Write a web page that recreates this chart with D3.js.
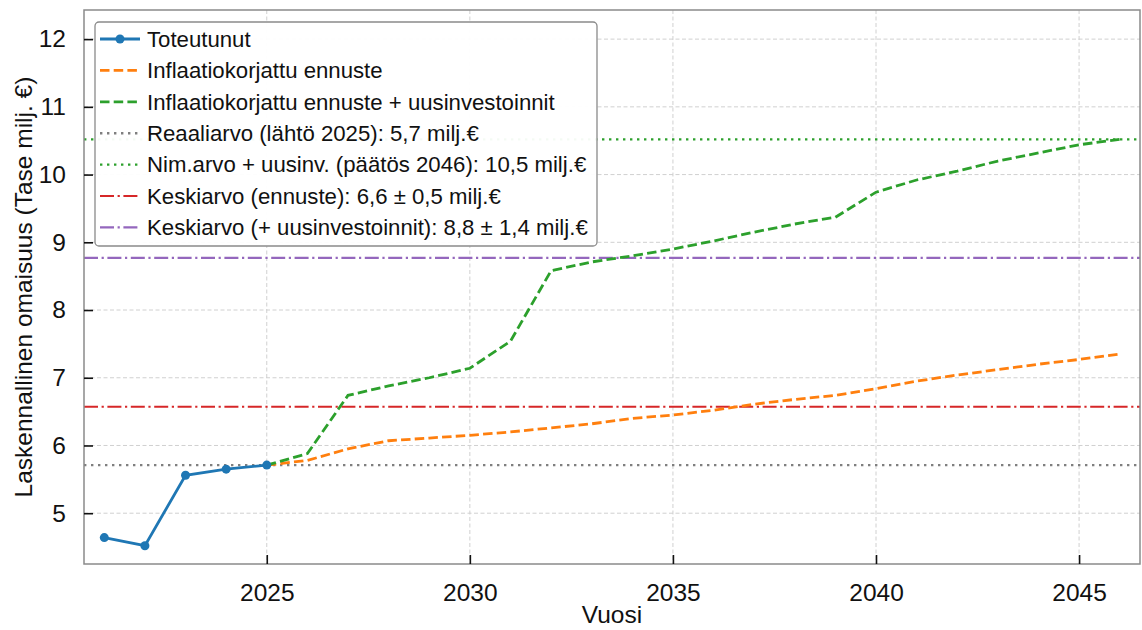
<!DOCTYPE html>
<html>
<head>
<meta charset="utf-8">
<script src="https://cdn.jsdelivr.net/npm/d3@7"></script>
<style>
  body { margin: 0; background: #fff; }
  svg { display: block; font-family: "Liberation Sans", Arial, Helvetica, sans-serif; }
</style>
</head>
<body>
<svg id="chart" width="1142" height="630"></svg>
<script>
// Toteutunut tase (laskennallinen omaisuus, milj. €)
const actualYears = [2021, 2022, 2023, 2024, 2025];
const actualValues = [4.64, 4.52, 5.56, 5.65, 5.71];

// Ennustevuodet 2025–2046
const forecastYears = d3.range(2025, 2047);
// Inflaatiokorjattu ennuste
const forecastValues = [5.71, 5.78, 5.95, 6.07, 6.11, 6.15, 6.20, 6.26, 6.32, 6.40, 6.45,
  6.52, 6.61, 6.68, 6.74, 6.84, 6.95, 7.04, 7.12, 7.20, 7.27, 7.35];
// Inflaatiokorjattu ennuste + uusinvestoinnit
const investValues = [5.71, 5.88, 6.74, 6.88, 7.00, 7.14, 7.54, 8.58, 8.71, 8.80, 8.90,
  9.02, 9.15, 9.27, 9.37, 9.74, 9.92, 10.05, 10.20, 10.32, 10.44, 10.52];

const xTicks = [2025, 2030, 2035, 2040, 2045];
const yTicks = [5, 6, 7, 8, 9, 10, 11, 12];

const svg = d3.select("#chart");
const margin = { left: 84, right: 1140, top: 10, bottom: 564 };

const x = d3.scaleLinear().domain([2020.5, 2046.5]).range([margin.left, margin.right]);
const y = d3.scaleLinear().domain([4.25, 12.43]).range([margin.bottom, margin.top]);

const fmt = v => v.toFixed(1).replace(".", ",");

// Tunnusluvut
const baseValue = actualValues[actualValues.length - 1];
const nominalEnd = investValues[investValues.length - 1];
const fcPeriod = forecastValues.slice(1);
const invPeriod = investValues.slice(1);
const fcMean = d3.mean(fcPeriod), fcDev = d3.deviation(fcPeriod);
const invMean = d3.mean(invPeriod), invDev = d3.deviation(invPeriod);

const colors = {
  blue: "#1f77b4", orange: "#ff7f0e", green: "#2ca02c",
  gray: "#7f7f7f", red: "#d62728", purple: "#9467bd"
};
const dashed = "9.5,4.2", dotted = "2.4,4.6", dashdot = "14,3.6,2.2,3.6";

// Ruudukko
const grid = svg.append("g");
grid.selectAll("line.gx").data(xTicks).join("line")
  .attr("x1", d => x(d)).attr("x2", d => x(d))
  .attr("y1", margin.top).attr("y2", margin.bottom)
  .attr("stroke", "#d0d0d0").attr("stroke-width", 1).attr("stroke-dasharray", "4,2.5");
grid.selectAll("line.gy").data(yTicks).join("line")
  .attr("x1", margin.left).attr("x2", margin.right)
  .attr("y1", d => y(d)).attr("y2", d => y(d))
  .attr("stroke", "#d0d0d0").attr("stroke-width", 1).attr("stroke-dasharray", "4,2.5");

const plot = svg.append("g");

// Vaakaviivat
const hlines = [
  { v: baseValue, color: colors.gray, dash: dotted, w: 2.4 },
  { v: nominalEnd, color: colors.green, dash: dotted, w: 2.4 },
  { v: fcMean, color: colors.red, dash: dashdot, w: 2.1 },
  { v: invMean, color: colors.purple, dash: dashdot, w: 2.1 }
];
plot.selectAll("line.h").data(hlines).join("line")
  .attr("x1", margin.left).attr("x2", margin.right)
  .attr("y1", d => y(d.v)).attr("y2", d => y(d.v))
  .attr("stroke", d => d.color).attr("stroke-width", d => d.w)
  .attr("stroke-dasharray", d => d.dash);

const line = d3.line().x(d => x(d[0])).y(d => y(d[1]));

plot.append("path")
  .datum(d3.zip(forecastYears, forecastValues))
  .attr("d", line).attr("fill", "none")
  .attr("stroke", colors.orange).attr("stroke-width", 2.8).attr("stroke-dasharray", dashed);
plot.append("path")
  .datum(d3.zip(forecastYears, investValues))
  .attr("d", line).attr("fill", "none")
  .attr("stroke", colors.green).attr("stroke-width", 2.8).attr("stroke-dasharray", dashed);

const actual = d3.zip(actualYears, actualValues);
plot.append("path")
  .datum(actual)
  .attr("d", line).attr("fill", "none")
  .attr("stroke", colors.blue).attr("stroke-width", 2.8);
plot.selectAll("circle.pt").data(actual).join("circle")
  .attr("cx", d => x(d[0])).attr("cy", d => y(d[1])).attr("r", 4.5)
  .attr("fill", colors.blue);

// Kehys
svg.append("rect")
  .attr("x", margin.left).attr("y", margin.top)
  .attr("width", margin.right - margin.left).attr("height", margin.bottom - margin.top)
  .attr("fill", "none").attr("stroke", "#8a8a8a").attr("stroke-width", 1.5);

// Akselit (sisäänpäin osoittavat tikit)
const xAxis = d3.axisBottom(x).tickValues(xTicks).tickFormat(d3.format("d"))
  .tickSizeInner(-9).tickSizeOuter(0).tickPadding(20);
const gx = svg.append("g").attr("transform", `translate(0,${margin.bottom})`).call(xAxis);
gx.select(".domain").remove();
gx.selectAll(".tick line").attr("stroke", "#111").attr("stroke-width", 1.6);
gx.selectAll(".tick text").attr("font-size", 24.5).attr("fill", "#111")
  .attr("font-family", "Liberation Sans, Arial, sans-serif");

const yAxis = d3.axisLeft(y).tickValues(yTicks).tickFormat(d3.format("d"))
  .tickSizeInner(-9).tickSizeOuter(0).tickPadding(18);
const gy = svg.append("g").attr("transform", `translate(${margin.left},0)`).call(yAxis);
gy.select(".domain").remove();
gy.selectAll(".tick line").attr("stroke", "#111").attr("stroke-width", 1.6);
gy.selectAll(".tick text").attr("font-size", 24.5).attr("fill", "#111")
  .attr("font-family", "Liberation Sans, Arial, sans-serif");

// Akselien otsikot
svg.append("text")
  .attr("x", (margin.left + margin.right) / 2).attr("y", 623)
  .attr("text-anchor", "middle").attr("font-size", 24.5).attr("fill", "#111")
  .text("Vuosi");
svg.append("text")
  .attr("transform", `translate(32,${(margin.top + margin.bottom) / 2}) rotate(-90)`)
  .attr("text-anchor", "middle").attr("font-size", 24.5).attr("fill", "#111")
  .text("Laskennallinen omaisuus (Tase milj. €)");

// Selite
const legendItems = [
  { label: "Toteutunut", color: colors.blue, dash: null, w: 2.8, marker: true },
  { label: "Inflaatiokorjattu ennuste", color: colors.orange, dash: dashed, w: 2.8 },
  { label: "Inflaatiokorjattu ennuste + uusinvestoinnit", color: colors.green, dash: dashed, w: 2.8 },
  { label: `Reaaliarvo (lähtö 2025): ${fmt(baseValue)} milj.€`, color: colors.gray, dash: dotted, w: 2.4 },
  { label: `Nim.arvo + uusinv. (päätös 2046): ${fmt(nominalEnd)} milj.€`, color: colors.green, dash: dotted, w: 2.4 },
  { label: `Keskiarvo (ennuste): ${fmt(fcMean)} ± ${fmt(fcDev)} milj.€`, color: colors.red, dash: dashdot, w: 2.1 },
  { label: `Keskiarvo (+ uusinvestoinnit): ${fmt(invMean)} ± ${fmt(invDev)} milj.€`, color: colors.purple, dash: dashdot, w: 2.1 }
];

const legend = svg.append("g");
legend.append("rect")
  .attr("x", 95).attr("y", 22).attr("width", 502).attr("height", 224)
  .attr("rx", 4).attr("fill", "#fff").attr("fill-opacity", 0.95)
  .attr("stroke", "#8a8a8a").attr("stroke-width", 1.3);

const rows = legend.selectAll("g.row").data(legendItems).join("g")
  .attr("transform", (d, i) => `translate(0,${39 + i * 31.4})`);
rows.append("line")
  .attr("x1", 100).attr("x2", 140)
  .attr("stroke", d => d.color).attr("stroke-width", d => d.w)
  .attr("stroke-dasharray", d => d.dash);
rows.filter(d => d.marker).append("circle")
  .attr("cx", 120).attr("r", 4.5).attr("fill", d => d.color);
rows.append("text")
  .attr("x", 147).attr("dy", "0.35em")
  .attr("font-size", 22.2).attr("fill", "#111")
  .text(d => d.label);
</script>
</body>
</html>
